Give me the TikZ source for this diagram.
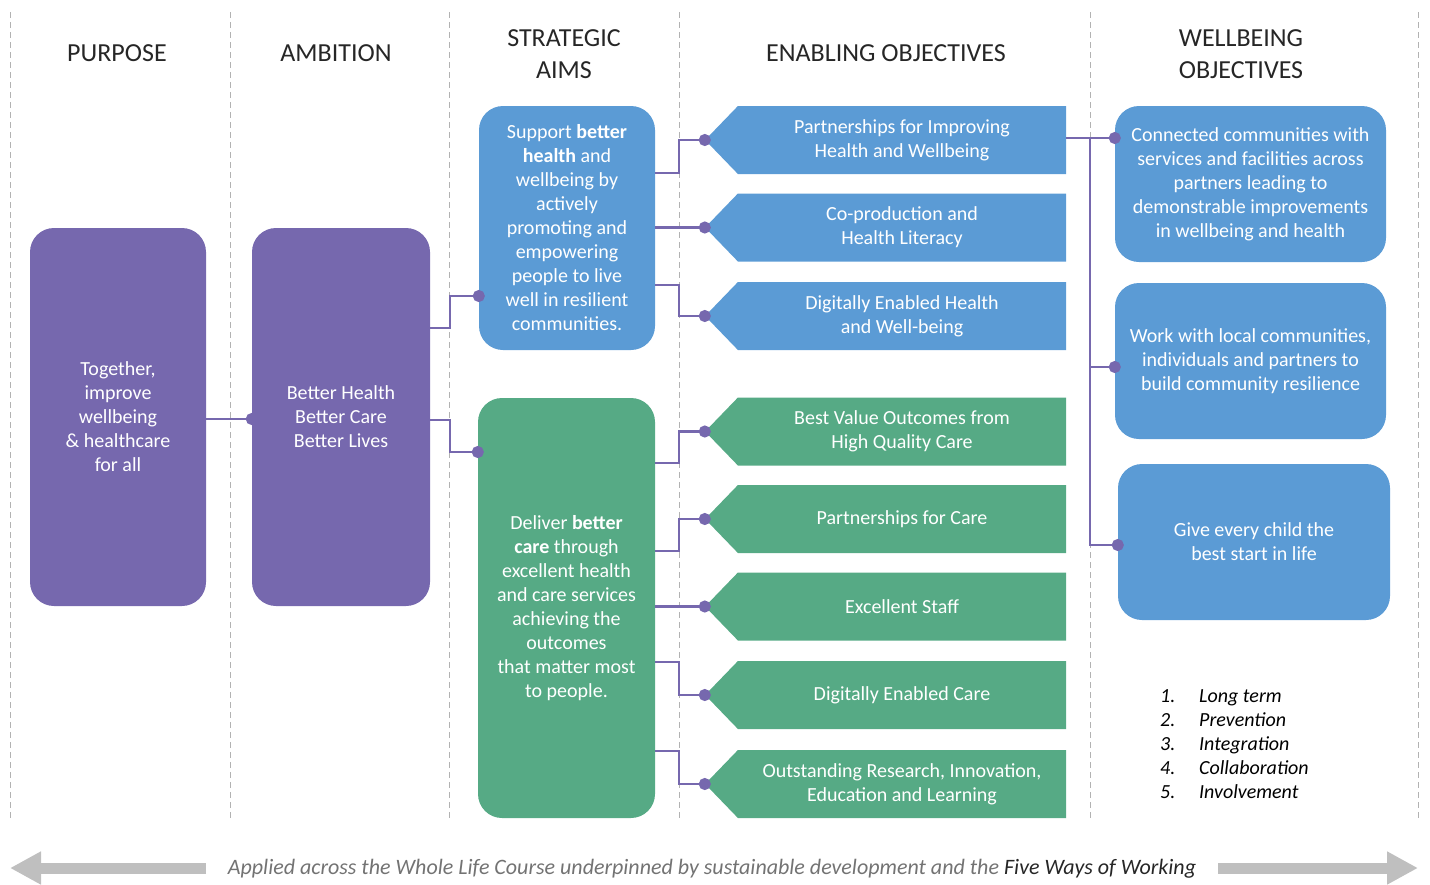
\documentclass[tikz,border=0pt]{standalone}
\usepackage{fontspec}
\setmainfont{Carlito}
\usetikzlibrary{arrows.meta,shapes.symbols}

\definecolor{purp}{HTML}{7668AE}
\definecolor{bluebox}{HTML}{5B9BD5}
\definecolor{greenbox}{HTML}{56AA85}
\definecolor{lifegrey}{HTML}{BFBFBF}

\begin{document}
\begin{tikzpicture}[x=1pt,y=-1pt]
\tikzstyle{heading}=[font=\fontsize{26}{32}\selectfont,align=center,text=black!85]
\tikzstyle{box}=[rectangle,rounded corners=24pt,text=white,align=center,inner sep=0pt,font=\fontsize{20}{24}\selectfont]
\tikzstyle{objective}=[signal,signal to=west,signal pointer angle=92,text=white,align=center,inner sep=0pt,minimum width=361pt,minimum height=68pt,font=\fontsize{20}{24}\selectfont]
\tikzstyle{divider}=[draw=black!30,line width=1pt,dash pattern=on 6pt off 4pt]
\tikzstyle{link}=[draw=purp,line width=2.5pt,-{Circle[length=12pt]},shorten >=-6pt]
\tikzstyle{lifearrow}=[draw=lifegrey,line width=11pt,-{Triangle[length=31pt,width=31pt]}]
\useasboundingbox (0,0) rectangle (1430,884);

\foreach \x in {10,230,449,679,1090,1418}
    \draw[divider] (\x,12) -- (\x,818);

\node[heading] (hpurpose) at (117,53) {PURPOSE};
\node[heading] (hambition) at (336,53) {AMBITION};
\node[heading] (haims) at (564,54) {STRATEGIC\\AIMS};
\node[heading] (henabling) at (886,53) {ENABLING OBJECTIVES};
\node[heading] (hwellbeing) at (1241,54) {WELLBEING\\OBJECTIVES};

\node[box,fill=purp,minimum width=176pt,minimum height=378pt] (purpose) at (118,417)
    {Together,\\improve\\wellbeing\\\& healthcare\\for all};
\node[box,fill=purp,minimum width=178pt,minimum height=378pt] (ambition) at (341,417)
    {Better Health\\Better Care\\Better Lives};

\node[box,fill=bluebox,minimum width=176pt,minimum height=244pt] (aim1) at (567,228)
    {Support \textbf{better}\\\textbf{health} and\\wellbeing by\\actively\\promoting and\\empowering\\people to live\\well in resilient\\communities.};
\node[box,fill=greenbox,minimum width=177pt,minimum height=420pt] (aim2) at (566.5,608)
    {Deliver \textbf{better}\\\textbf{care} through\\excellent health\\and care services\\achieving the\\outcomes\\that matter most\\to people.};

\node[objective,fill=bluebox] (obj1) at (902,140) {Partnerships for Improving\\Health and Wellbeing};
\node[objective,fill=bluebox] (obj2) at (902,227.5) {Co-production and\\Health Literacy};
\node[objective,fill=bluebox] (obj3) at (902,316) {Digitally Enabled Health\\and Well-being};
\node[objective,fill=greenbox] (obj4) at (902,431.5) {Best Value Outcomes from\\High Quality Care};
\node[objective,fill=greenbox] (obj5) at (902,519) {Partnerships for Care};
\node[objective,fill=greenbox] (obj6) at (902,606.5) {Excellent Staff};
\node[objective,fill=greenbox] (obj7) at (902,695) {Digitally Enabled Care};
\node[objective,fill=greenbox] (obj8) at (902,784) {Outstanding Research, Innovation,\\Education and Learning};

\node[box,fill=bluebox,minimum width=271pt,minimum height=156pt] (well1) at (1250.5,184)
    {Connected communities with\\services and facilities across\\partners leading to\\demonstrable improvements\\in wellbeing and health};
\node[box,fill=bluebox,minimum width=271pt,minimum height=156pt] (well2) at (1250.5,361)
    {Work with local communities,\\individuals and partners to\\build community resilience};
\node[box,fill=bluebox,minimum width=272pt,minimum height=156pt] (well3) at (1254,542)
    {Give every child the\\best start in life};

\draw[link] (purpose.east |- 0,419) -- (ambition.west |- 0,419);
\draw[link] (ambition.east |- 0,328) -- ++(20,0) |- (aim1.west |- 0,296);
\draw[link] (ambition.east |- 0,420) -- ++(20,0) |- (aim2.west |- 0,452);

\draw[link] (aim1.east |- 0,173) -- ++(24,0) |- (obj1.west);
\draw[link] (aim1.east |- 0,227.5) -- (obj2.west);
\draw[link] (aim1.east |- 0,285) -- ++(24,0) |- (obj3.west);
\draw[link] (aim2.east |- 0,463) -- ++(24,0) |- (obj4.west);
\draw[link] (aim2.east |- 0,551) -- ++(24,0) |- (obj5.west);
\draw[link] (aim2.east |- 0,606.5) -- (obj6.west);
\draw[link] (aim2.east |- 0,662) -- ++(24,0) |- (obj7.west);
\draw[link] (aim2.east |- 0,751) -- ++(24,0) |- (obj8.west);

\coordinate (hub) at (1090,138);
\draw[link] (obj1.east |- hub) -- (well1.west |- hub);
\draw[link] (hub) |- (well2.west |- 0,367);
\draw[link] (hub) |- (well3.west |- 0,545);

\node[anchor=base west,inner sep=0pt,font=\fontsize{20}{24}\selectfont\itshape] (ways) at (1160,702)
    {\begin{tabular}[t]{@{}p{39pt}@{}l@{}}
    1. & Long term\\
    2. & Prevention\\
    3. & Integration\\
    4. & Collaboration\\
    5. & Involvement
    \end{tabular}};

\node[font=\fontsize{22}{24}\selectfont\itshape,text=black!55] (life) at (712,869)
    {Applied across the Whole Life Course underpinned by sustainable development and the \textcolor{black!85}{Five Ways of Working}};
\draw[lifearrow] (206,868) -- (10,868);
\draw[lifearrow] (1218,868) -- (1418,868);
\end{tikzpicture}
\end{document}
